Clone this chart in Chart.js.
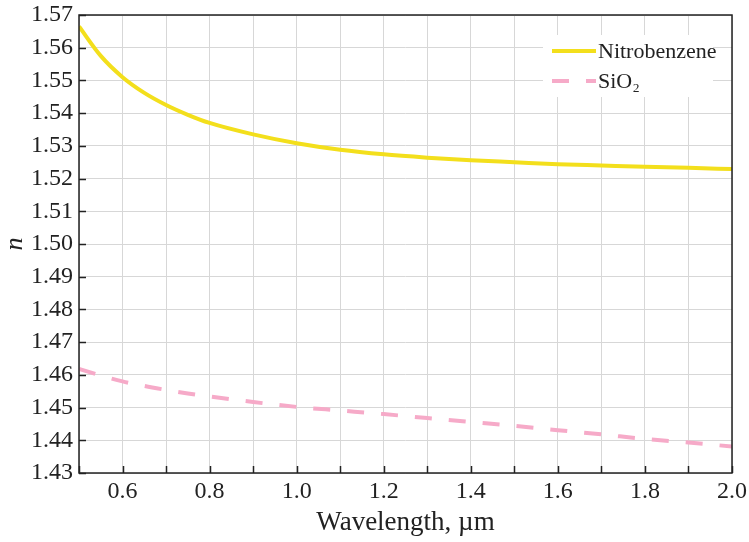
<!DOCTYPE html>
<html>
<head>
<meta charset="utf-8">
<script src="https://cdn.jsdelivr.net/npm/chart.js@4.4.0/dist/chart.umd.min.js"></script>
<style>
  html, body { margin: 0; padding: 0; background: #fff; }
  canvas { display: block; }
</style>
</head>
<body>
<canvas id="nChart" width="749" height="542"></canvas>
<script>
// Wavelength (µm) and refractive index values
const wavelength = [0.5, 0.55, 0.6, 0.65, 0.7, 0.75, 0.8, 0.9, 1.0, 1.1, 1.2, 1.3, 1.4, 1.5, 1.6, 1.7, 1.8, 1.9, 2.0];
const nitrobenzene = [1.5665, 1.5575, 1.5510, 1.5462, 1.5425, 1.5395, 1.5370, 1.5335, 1.5308, 1.5288, 1.5274, 1.5264, 1.5256, 1.5250, 1.5244, 1.5240, 1.5236, 1.5233, 1.5229];
const sio2 = [1.4618, 1.4598, 1.4580, 1.4566, 1.4554, 1.4543, 1.4534, 1.4517, 1.4502, 1.4491, 1.4480, 1.4468, 1.4456, 1.4444, 1.4431, 1.4418, 1.4404, 1.4393, 1.4381];
const seriesNames = ['Nitrobenzene', 'SiO\u2082'];

const xMin = 0.5, xMax = 2.0, xStep = 0.1;
const yMin = 1.43, yMax = 1.57, yStep = 0.01;

const serif = "'Liberation Serif', 'DejaVu Serif', serif";
const yellow = '#f3df1c';
const pink = '#f6aac8';

// frame, inward ticks and in-plot legend
const framePlugin = {
  id: 'frame',
  afterDatasetsDraw(chart) {
    const ctx = chart.ctx;
    const a = chart.chartArea;
    const xs = chart.scales.x, ys = chart.scales.y;
    ctx.save();
    ctx.strokeStyle = '#222';
    ctx.lineWidth = 1.5;
    // tick marks pointing into the plot
    ctx.beginPath();
    xs.ticks.forEach(t => {
      const px = Math.round(xs.getPixelForValue(t.value)) + 0.5;
      ctx.moveTo(px, a.bottom);
      ctx.lineTo(px, a.bottom - 7);
    });
    ys.ticks.forEach(t => {
      const py = Math.round(ys.getPixelForValue(t.value)) + 0.5;
      ctx.moveTo(a.left, py);
      ctx.lineTo(a.left + 7, py);
    });
    ctx.stroke();
    ctx.strokeRect(a.left, a.top, a.right - a.left, a.bottom - a.top);

    // legend
    const lx = a.right - 180;
    const ly = a.top + 20;
    ctx.fillStyle = '#fff';
    ctx.fillRect(lx - 9, ly, 170, 62);
    chart.data.datasets.forEach((ds, i) => {
      const y = ly + 16 + i * 30;
      ctx.strokeStyle = ds.borderColor;
      ctx.lineWidth = 4;
      ctx.setLineDash(ds.borderDash || []);
      ctx.beginPath();
      ctx.moveTo(lx, y);
      ctx.lineTo(lx + 44, y);
      ctx.stroke();
      ctx.setLineDash([]);
      ctx.fillStyle = '#222';
      ctx.font = '22px ' + serif;
      ctx.textBaseline = 'middle';
      ctx.fillText(ds.label, lx + 46, y + 1);
    });
    ctx.restore();
  }
};

new Chart(document.getElementById('nChart'), {
  type: 'line',
  data: {
    datasets: [
      {
        label: seriesNames[0],
        data: wavelength.map((x, i) => ({ x: x, y: nitrobenzene[i] })),
        borderColor: yellow,
        borderWidth: 4,
        pointRadius: 0,
        cubicInterpolationMode: 'monotone'
      },
      {
        label: seriesNames[1],
        data: wavelength.map((x, i) => ({ x: x, y: sio2[i] })),
        borderColor: pink,
        borderWidth: 4,
        borderDash: [17, 17],
        pointRadius: 0,
        cubicInterpolationMode: 'monotone'
      }
    ]
  },
  options: {
    responsive: false,
    animation: false,
    layout: { padding: { top: 15, right: 17, left: 0, bottom: 3 } },
    plugins: {
      legend: { display: false },
      tooltip: { enabled: false }
    },
    scales: {
      x: {
        type: 'linear',
        min: xMin,
        max: xMax,
        afterFit: s => { s.height = 66; s.paddingRight = 0; s.paddingLeft = 0; },
        ticks: {
          stepSize: xStep,
          autoSkip: false,
          maxRotation: 0,
          padding: 4,
          color: '#222',
          font: { family: serif, size: 24 },
          callback: v => {
            const k = Math.round(v * 10);
            return (k % 2 === 0) ? (k / 10).toFixed(1) : '';
          }
        },
        grid: { color: '#d7d7d7', lineWidth: 1, drawTicks: false },
        border: { display: false },
        title: {
          display: true,
          text: 'Wavelength, \u00b5m',
          color: '#222',
          font: { family: serif, size: 27 },
          padding: { top: 0, bottom: 0 }
        }
      },
      y: {
        min: yMin,
        max: yMax,
        afterFit: s => { s.width = 79; s.paddingTop = 0; s.paddingBottom = 0; },
        ticks: {
          stepSize: yStep,
          autoSkip: false,
          padding: 6,
          color: '#222',
          font: { family: serif, size: 24 },
          callback: v => v.toFixed(2)
        },
        grid: { color: '#d7d7d7', lineWidth: 1, drawTicks: false },
        border: { display: false },
        title: {
          display: true,
          text: 'n',
          color: '#222',
          font: { family: serif, size: 26, style: 'italic' },
          padding: { top: 0, bottom: 0 }
        }
      }
    }
  },
  plugins: [framePlugin]
});
</script>
</body>
</html>
